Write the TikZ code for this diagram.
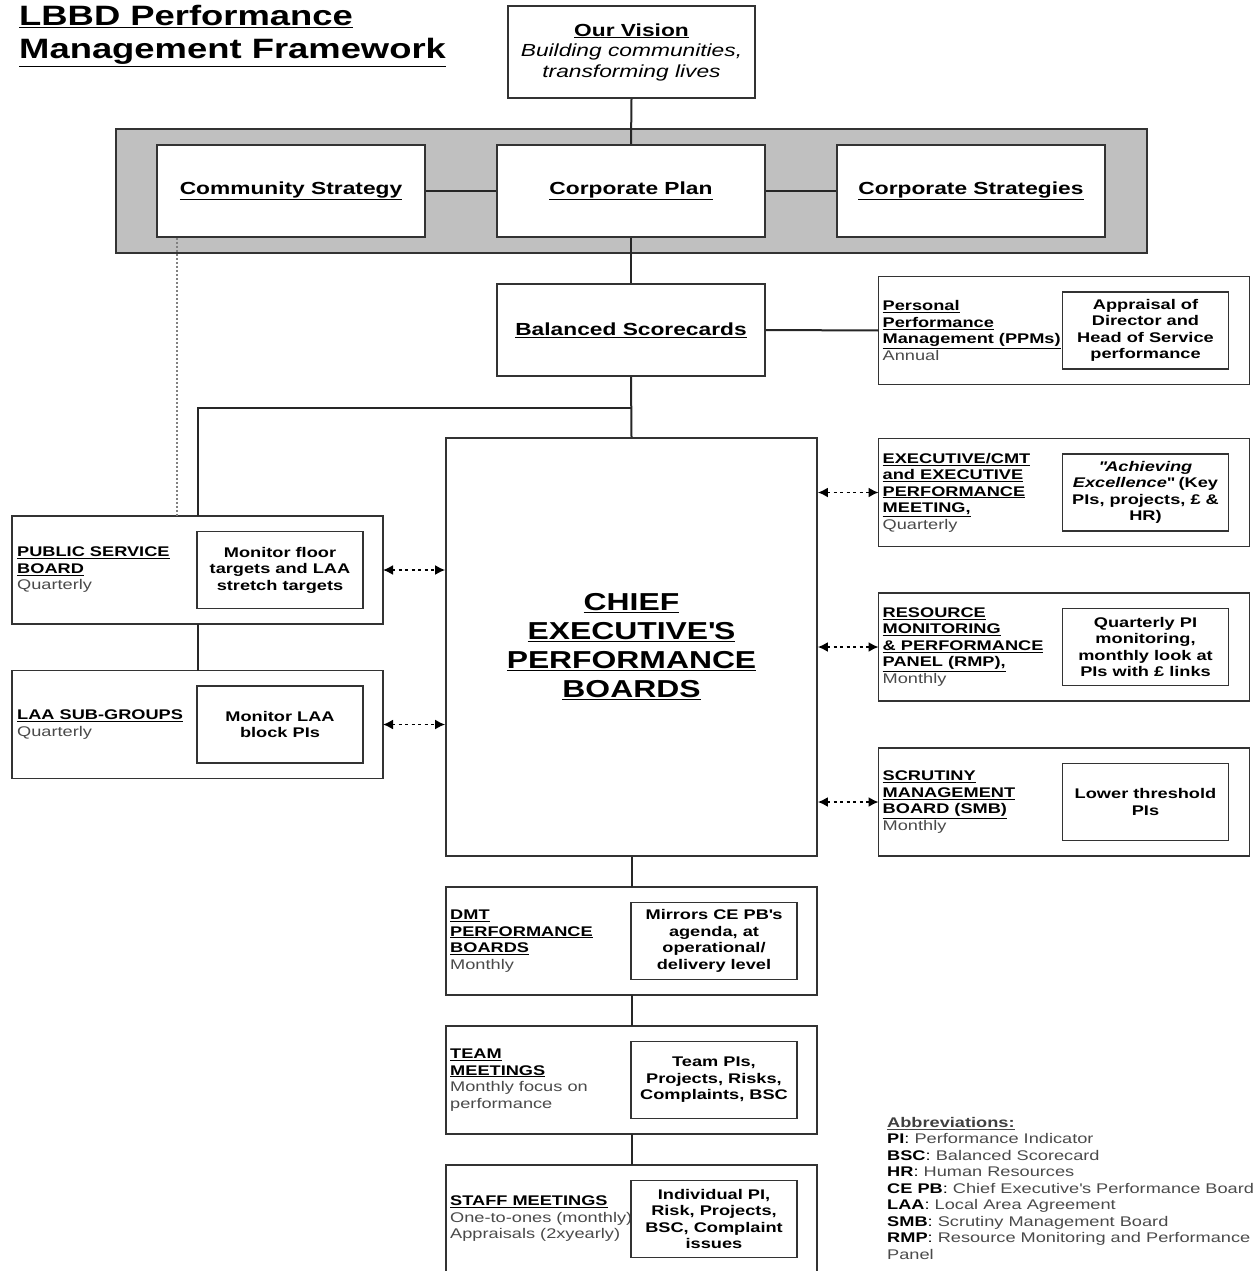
\documentclass[tikz,border=0pt]{standalone}
\usepackage{fontspec}
\setmainfont{Liberation Sans}[FakeStretch=1.3]
\usepackage{xcolor}
\usepackage{tikz}
\usetikzlibrary{positioning}
\usetikzlibrary{arrows.meta}
\definecolor{boxline}{HTML}{333333}
\definecolor{bandgrey}{HTML}{C0C0C0}
\definecolor{softgrey}{HTML}{4A4A4A}
\newcommand{\boardname}[1]{\textbf{\underline{#1}}}
\tikzstyle{mainbox} = [draw=boxline, fill=white, line width=1.8pt,
rectangle, minimum width=268pt, minimum height=92pt, align=center,
font=\fontsize{17.5}{20.5}\selectfont\bfseries]
\tikzstyle{meetbox} = [draw=boxline, fill=white, line width=1.8pt,
rectangle, minimum width=371pt, minimum height=108pt, outer sep=0pt]
\tikzstyle{notebox} = [draw=boxline, line width=1.8pt, rectangle,
minimum width=166pt, minimum height=77pt, inner sep=2pt, outer sep=0pt,
align=center, font=\fontsize{14}{16.5}\selectfont\bfseries]
\tikzstyle{meetlabel} = [align=left, inner sep=0pt,
font=\fontsize{14}{16.5}\selectfont]
\tikzstyle{link} = [draw=black!85, line width=2pt]
\tikzstyle{twoway} = [{Latex[length=10pt,width=10pt]}-{Latex[length=10pt,width=10pt]},
dash pattern=on 3pt off 3.5pt, line width=1.6pt]

\begin{document}
\begin{tikzpicture}[x=1pt,y=-1pt]
        \useasboundingbox (0,0) rectangle (1254,1271);
        \clip (0,0) rectangle (1254,1271);
        % title and vision
        \node[anchor=north west, align=left, inner sep=0pt,
            font=\fontsize{28}{33}\selectfont\bfseries] (title) at (19,5)
            {\underline{LBBD Performance}\\\underline{Management Framework}};
        \node[mainbox, minimum width=247pt, font=\fontsize{17.5}{20.5}\selectfont] (vision) at (631.5,52)
            {\textbf{\underline{Our Vision}}\\\textit{Building communities,}\\\textit{transforming lives}};
        % strategy band
        \node[draw=boxline, fill=bandgrey, line width=1.8pt, minimum width=1031pt,
            minimum height=124pt] (band) at (631.5,191) {};
        \node[mainbox] (community) at (291,191) {\underline{Community Strategy}};
        \node[mainbox] (corpplan) at (631,191) {\underline{Corporate Plan}};
        \node[mainbox] (corpstrat) at (971,191) {\underline{Corporate Strategies}};
        \node[mainbox] (scorecard) at (631,330) {\underline{Balanced Scorecards}};
        % chief executive
        \node[draw=boxline, fill=white, line width=1.8pt, minimum width=371pt,
            minimum height=418pt, align=center,
            font=\fontsize{24.5}{29}\selectfont\bfseries] (ceboards) at (631.5,647)
            {\underline{CHIEF}\\\underline{EXECUTIVE\textquotesingle S}\\\underline{PERFORMANCE}\\\underline{BOARDS}};
        % right column
        \node[meetbox] (ppm) at (1064,330.5) {};
        \node[meetlabel, right=4pt] at (ppm.west)
            {\boardname{Personal}\\\boardname{Performance}\\\boardname{Management (PPMs)}\\{\color{softgrey}Annual}};
        \node[notebox, left=21pt] (ppmnote) at (ppm.east)
            {Appraisal of\\Director and\\Head of Service\\performance};
        \node[meetbox] (execmeet) at (1064,492.5) {};
        \node[meetlabel, right=4pt] at (execmeet.west)
            {\boardname{EXECUTIVE/CMT}\\\boardname{and EXECUTIVE}\\\boardname{PERFORMANCE}\\\boardname{MEETING,}\\{\color{softgrey}Quarterly}};
        \node[notebox, left=21pt] (execnote) at (execmeet.east)
            {\textit{\textquotedbl Achieving}\\\textit{Excellence}\textquotedbl{} (Key\\PIs, projects, £ \&\\HR)};
        \node[meetbox] (rmp) at (1064,647) {};
        \node[meetlabel, right=4pt] at (rmp.west)
            {\boardname{RESOURCE}\\\boardname{MONITORING}\\\boardname{\& PERFORMANCE}\\\boardname{PANEL (RMP),}\\{\color{softgrey}Monthly}};
        \node[notebox, left=21pt] (rmpnote) at (rmp.east)
            {Quarterly PI\\monitoring,\\monthly look at\\PIs with £ links};
        \node[meetbox] (smb) at (1064,802) {};
        \node[meetlabel, right=4pt] at (smb.west)
            {\boardname{SCRUTINY}\\\boardname{MANAGEMENT}\\\boardname{BOARD (SMB)}\\{\color{softgrey}Monthly}};
        \node[notebox, left=21pt] (smbnote) at (smb.east)
            {Lower threshold\\PIs};
        % left column
        \node[meetbox] (psb) at (197.5,570) {};
        \node[meetlabel, right=5pt] at (psb.west)
            {\boardname{PUBLIC SERVICE}\\\boardname{BOARD}\\{\color{softgrey}Quarterly}};
        \node[notebox, left=20pt] (psbnote) at (psb.east)
            {Monitor floor\\targets and LAA\\stretch targets};
        \node[meetbox] (laa) at (197.5,724.5) {};
        \node[meetlabel, right=5pt] at (laa.west)
            {\boardname{LAA SUB-GROUPS}\\{\color{softgrey}Quarterly}};
        \node[notebox, left=20pt] (laanote) at (laa.east)
            {Monitor LAA\\block PIs};
        % lower column
        \node[meetbox] (dmt) at (631.5,941) {};
        \node[meetlabel, right=4pt] at (dmt.west)
            {\boardname{DMT}\\\boardname{PERFORMANCE}\\\boardname{BOARDS}\\{\color{softgrey}Monthly}};
        \node[notebox, left=20pt] (dmtnote) at (dmt.east)
            {Mirrors CE PB\textquotesingle s\\agenda, at\\operational/\\delivery level};
        \node[meetbox] (team) at (631.5,1080) {};
        \node[meetlabel, right=4pt] at (team.west)
            {\boardname{TEAM}\\\boardname{MEETINGS}\\{\color{softgrey}Monthly focus on}\\{\color{softgrey}performance}};
        \node[notebox, left=20pt] (teamnote) at (team.east)
            {Team PIs,\\Projects, Risks,\\Complaints, BSC};
        \node[meetbox] (staff) at (631.5,1219) {};
        \node[meetlabel, right=4pt] at (staff.west)
            {\boardname{STAFF MEETINGS}\\{\color{softgrey}One-to-ones (monthly)}\\{\color{softgrey}Appraisals (2xyearly)}};
        \node[notebox, left=20pt] (staffnote) at (staff.east)
            {Individual PI,\\Risk, Projects,\\BSC, Complaint\\issues};
        % abbreviations
        \node[meetlabel, anchor=north west] (abbrev) at (887,1117)
            {{\color{black!75}\boardname{Abbreviations:}}\\
            \textbf{PI}: {\color{softgrey}Performance Indicator}\\
            \textbf{BSC}: {\color{softgrey}Balanced Scorecard}\\
            \textbf{HR}: {\color{softgrey}Human Resources}\\
            \textbf{CE PB}: {\color{softgrey}Chief Executive\textquotesingle s Performance Board}\\
            \textbf{LAA}: {\color{softgrey}Local Area Agreement}\\
            \textbf{SMB}: {\color{softgrey}Scrutiny Management Board}\\
            \textbf{RMP}: {\color{softgrey}Resource Monitoring and Performance}\\
            {\color{softgrey}Panel}};
        % connectors
        \coordinate (split) at (631,408);
        \draw[link] (vision.south) -- (corpplan.north);
        \draw[link] (community.east) -- (corpplan.west);
        \draw[link] (corpplan.east) -- (corpstrat.west);
        \draw[link] (corpplan.south) -- (scorecard.north);
        \draw[link] (scorecard.east) -- (ppm.west);
        \draw[link] (scorecard.south) -- (ceboards.north);
        \draw[link] (split) -| (psb.north);
        \draw[link] (psb.south) -- (laa.north);
        \draw[link] (ceboards.south) -- (dmt.north);
        \draw[link] (dmt.south) -- (team.north);
        \draw[link] (team.south) -- (staff.north);
        \draw[gray, line width=2pt, dash pattern=on 2pt off 2pt]
            ([xshift=21pt]community.south west) -- ([xshift=21pt]community.south west |- psb.north);
        \draw[twoway] (psb.east) -- (psb.east -| ceboards.west);
        \draw[twoway] (laa.east) -- (laa.east -| ceboards.west);
        \draw[twoway] (execmeet.west -| ceboards.east) -- (execmeet.west);
        \draw[twoway] (rmp.west -| ceboards.east) -- (rmp.west);
        \draw[twoway] (smb.west -| ceboards.east) -- (smb.west);
    \end{tikzpicture}
\end{document}
